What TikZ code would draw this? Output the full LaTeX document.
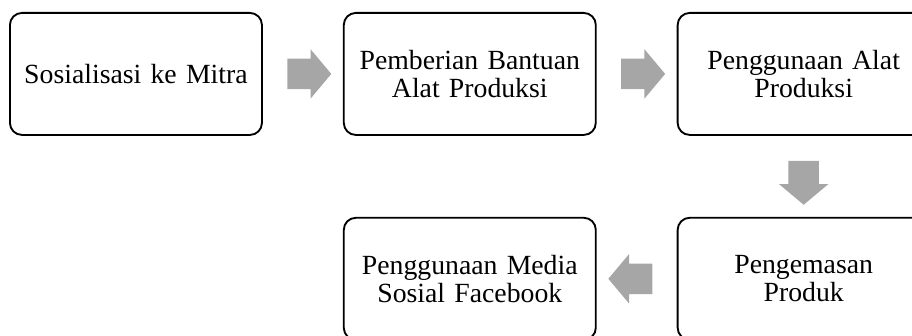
\documentclass[tikz,border=0pt]{standalone}
\usepackage{fontspec}
\setmainfont{Liberation Serif}
\usepackage{xcolor}
\usetikzlibrary{positioning,calc,shapes.arrows}
\definecolor{arrowgray}{HTML}{A6A6A6}
\tikzset{
	flow/.style={node distance=60pt and 60pt},
	stage/.style={rectangle,draw,rounded corners=9pt,line width=1.4pt,
		minimum width=189pt,minimum height=91.5pt,text width=182pt,align=center,
		font=\fontsize{20.8pt}{21pt}\selectfont},
	blockarrow/.style={single arrow,fill=arrowgray,draw=none,inner xsep=0pt,
		inner ysep=11.25pt,minimum height=33pt,single arrow head extend=7.1pt,
		single arrow tip angle=100},
	down arrow/.style={blockarrow,shape border rotate=270,inner xsep=11.25pt,
		inner ysep=0pt}
}

\begin{document}
\begin{tikzpicture}[flow]
	\useasboundingbox (0,0) rectangle (684pt,-251.25pt);
	
	\node[stage,anchor=north west] (sos) at (6.75pt,-9pt) {Sosialisasi ke Mitra};
	\node[stage] (bantu) [right= of sos] {Pemberian Bantuan\\Alat Produksi};
	\node[stage] (guna) [right= of bantu] {Penggunaan Alat\\Produksi};
	\node[stage] (kemas) [below=60.75pt of guna] {Pengemasan\\Produk};
	\node[stage] (media) [left= of kemas] {Penggunaan Media\\Sosial Facebook};
	
	\node[blockarrow] (a1) at ($(sos.east)!0.5!(bantu.west)$) {};
	\node[blockarrow] (a2) at ($(bantu.east)!0.5!(guna.west)$) {};
	\node[down arrow] (a3) at ($(guna.south)!0.5!(kemas.north)$) {};
	\node[blockarrow,shape border rotate=180] (a4) at ($(kemas.west)!0.5!(media.east)$) {};
\end{tikzpicture}
\end{document}
